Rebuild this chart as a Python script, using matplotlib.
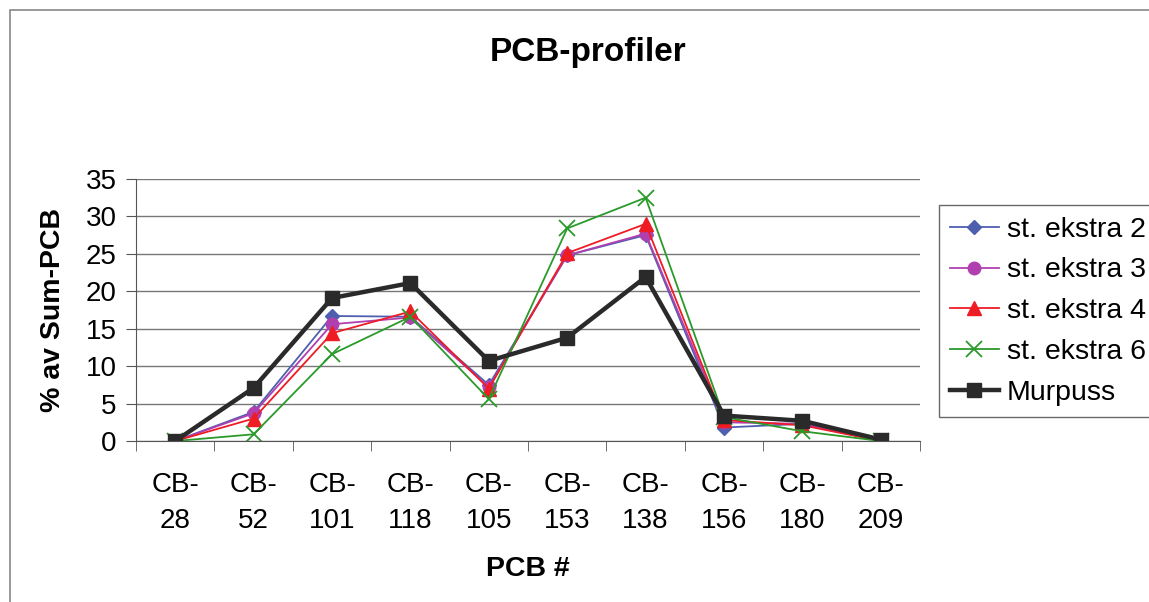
import numpy as np
import matplotlib.pyplot as plt
from matplotlib.patches import Rectangle

plt.rcParams['font.family'] = ['Liberation Sans', 'DejaVu Sans']

# data
kategorier = ["CB-\n28", "CB-\n52", "CB-\n101", "CB-\n118", "CB-\n105",
              "CB-\n153", "CB-\n138", "CB-\n156", "CB-\n180", "CB-\n209"]
ekstra2 = [0.0, 3.9, 16.7, 16.6, 7.5, 24.8, 27.5, 1.8, 2.3, 0.0]
ekstra3 = [0.0, 3.7, 15.6, 16.5, 7.2, 24.8, 27.7, 2.5, 2.3, 0.0]
ekstra4 = [0.0, 3.0, 14.4, 17.3, 7.0, 25.1, 29.0, 2.8, 2.1, 0.0]
ekstra6 = [0.0, 0.9, 11.6, 16.6, 5.6, 28.4, 32.5, 3.2, 1.3, 0.0]
murpuss = [0.0, 7.1, 19.1, 21.1, 10.7, 13.8, 21.9, 3.4, 2.7, 0.2]

fig = plt.figure(figsize=(11.49, 6.02), dpi=100)
ax = fig.add_axes([0.1184, 0.2674, 0.6823, 0.4353])

# ramme rundt diagramomraadet
fig.patches.append(Rectangle((0.009, -0.1), 1.1, 1.083, transform=fig.transFigure,
                             fill=False, edgecolor='#888888', linewidth=1.2))

x = np.arange(len(kategorier))
ax.plot(x, ekstra2, color='#4f5fb0', marker='D', markersize=7, linewidth=1.3, label='st. ekstra 2')
ax.plot(x, ekstra3, color='#b040b0', marker='o', markersize=9, linewidth=1.3, label='st. ekstra 3')
ax.plot(x, ekstra4, color='#ee1c24', marker='^', markersize=10, linewidth=1.3, label='st. ekstra 4')
ax.plot(x, ekstra6, color='#2a9a2a', marker='x', markersize=11, markeredgewidth=1.3,
        linewidth=1.3, label='st. ekstra 6')
ax.plot(x, murpuss, color='#2a2a2a', marker='s', markersize=10, linewidth=3.2, label='Murpuss')

ax.set_xlim(-0.5, len(kategorier) - 0.5)
ax.set_ylim(0, 35)
ax.set_yticks(np.arange(0, 36, 5))
ax.set_xticks(x)
ax.set_xticklabels(kategorier, fontsize=20, linespacing=1.5)
ax.set_xticks(np.arange(-0.5, len(kategorier), 1), minor=True)
ax.tick_params(axis='x', which='major', length=0, pad=22)
ax.tick_params(axis='x', which='minor', length=7, color='#555555')
ax.tick_params(axis='y', labelsize=20, length=7, color='#555555', pad=7)
ax.grid(axis='y', color='#777777', linewidth=1)
ax.set_axisbelow(True)
for s in ['top', 'right']:
    ax.spines[s].set_visible(False)
ax.spines['left'].set_color('#555555')
ax.spines['bottom'].set_color('#555555')

ax.set_ylabel('% av Sum-PCB', fontsize=20.5, fontweight='bold', labelpad=14)
ax.set_xlabel('PCB #', fontsize=20.5, fontweight='bold', labelpad=16)
fig.text(0.512, 0.912, 'PCB-profiler', ha='center', va='center', fontsize=24, fontweight='bold')

leg = fig.legend(loc='upper left', bbox_to_anchor=(0.817, 0.659), fontsize=20.5,
                 frameon=True, fancybox=False, edgecolor='#444444', handlelength=1.7,
                 handletextpad=0.3, borderpad=0.4, labelspacing=0.52, borderaxespad=0)
leg.get_frame().set_linewidth(1)

fig.savefig('out.png', dpi=100)
